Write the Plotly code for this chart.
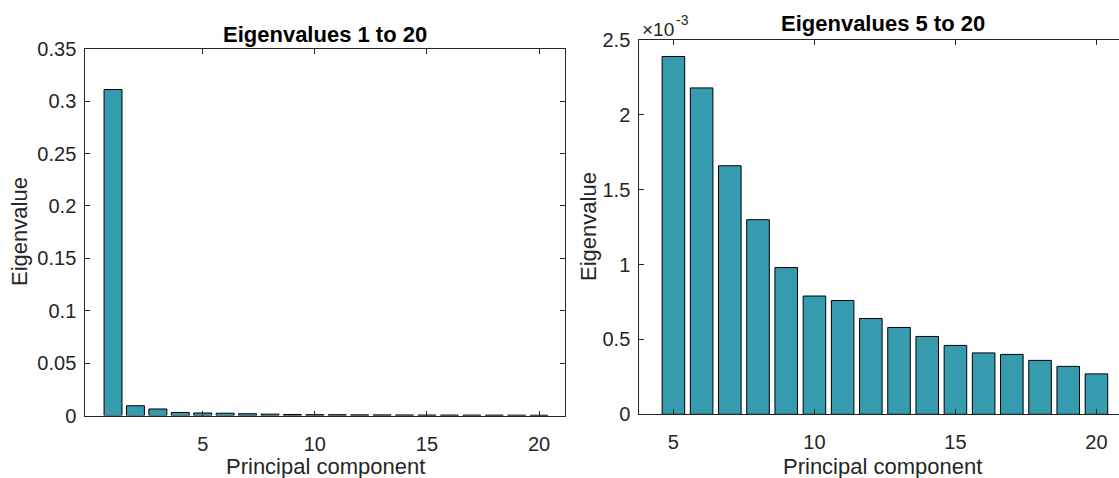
import plotly.graph_objects as go

# ---- data ----
components = list(range(1, 21))
eigenvalues = [0.311, 0.0093, 0.0062, 0.0029, 0.00239, 0.00218, 0.00166, 0.00130,
               0.00098, 0.00079, 0.00076, 0.00064, 0.00058, 0.00052, 0.00046,
               0.00041, 0.00040, 0.00036, 0.00032, 0.00027]
zoom_start = 5  # second panel shows components 5..20

left_xticks = [5, 10, 15, 20]
left_yticks = [0, 0.05, 0.1, 0.15, 0.2, 0.25, 0.3, 0.35]
left_yticktext = ["0", "0.05", "0.1", "0.15", "0.2", "0.25", "0.3", "0.35"]
right_xticks = [5, 10, 15, 20]
right_yticks = [0, 0.0005, 0.001, 0.0015, 0.002, 0.0025]
right_yticktext = ["0", "0.5", "1", "1.5", "2", "2.5"]

W, H = 1119, 478
BAR = "#359cb0"
AX = "#262626"
FONT = "Liberation Sans, Arial, Helvetica, sans-serif"

def px(x):
    return x / W

def py(y):
    return 1 - y / H

fig = go.Figure()
fig.add_trace(go.Bar(x=components, y=eigenvalues, width=0.8,
                     marker=dict(color=BAR, line=dict(color="black", width=1)),
                     xaxis="x", yaxis="y"))
i0 = components.index(zoom_start)
fig.add_trace(go.Bar(x=components[i0:], y=eigenvalues[i0:], width=0.8,
                     marker=dict(color=BAR, line=dict(color="black", width=1)),
                     xaxis="x2", yaxis="y2"))

axis_common = dict(showgrid=False, zeroline=False, showline=True, linecolor=AX,
                   linewidth=1, ticks="inside", ticklen=5, tickcolor=AX,
                   automargin=False,
                   tickfont=dict(size=20, color=AX, family=FONT))

fig.update_layout(
    template="none",
    width=W, height=H, margin=dict(l=0, r=0, t=0, b=0, pad=0),
    paper_bgcolor="white", plot_bgcolor="white", showlegend=False,
    font=dict(family=FONT, color=AX),
    xaxis=dict(domain=[px(85.3), px(565.3)], range=[-0.236, 21.17],
               tickvals=left_xticks, mirror="ticks",
               anchor="y", ticklabelstandoff=10, **axis_common),
    yaxis=dict(domain=[py(415.5), py(48.7)], range=[0, 0.35],
               tickvals=left_yticks, ticktext=left_yticktext, mirror="ticks",
               anchor="x", ticklabelstandoff=4, **axis_common),
    xaxis2=dict(domain=[px(639.3), 1.0], range=[3.79, 20.8],
                tickvals=right_xticks, mirror="ticks", anchor="y2",
                ticklabelstandoff=10, **axis_common),
    yaxis2=dict(domain=[py(414.3), py(40)], range=[0, 0.0025],
                tickvals=right_yticks, ticktext=right_yticktext, anchor="x2",
                ticklabelstandoff=4, **axis_common),
)

ann = []
ann.append(dict(text="<b>Eigenvalues 1 to 20</b>", x=px(325), y=py(34.5),
                font=dict(size=22, color="black", family=FONT)))
ann.append(dict(text="<b>Eigenvalues 5 to 20</b>", x=px(882.5), y=py(23.5),
                font=dict(size=22, color="black", family=FONT)))
ann.append(dict(text="Principal component", x=px(325), y=py(466),
                font=dict(size=22, color=AX, family=FONT)))
ann.append(dict(text="Principal component", x=px(882), y=py(466),
                font=dict(size=22, color=AX, family=FONT)))
ann.append(dict(text="Eigenvalue", x=px(20), y=py(232), textangle=-90,
                font=dict(size=22, color=AX, family=FONT)))
ann.append(dict(text="Eigenvalue", x=px(588), y=py(227), textangle=-90,
                font=dict(size=22, color=AX, family=FONT)))
ann.append(dict(text="×10", x=px(640), y=py(29), xanchor="left",
                font=dict(size=19, color=AX, family=FONT)))
ann.append(dict(text="-3", x=px(674), y=py(20), xanchor="left",
                font=dict(size=14, color=AX, family=FONT)))
for a in ann:
    a.setdefault("xanchor", "center")
    a.update(xref="paper", yref="paper", yanchor="middle", showarrow=False)
fig.update_layout(annotations=ann)

fig.write_html("out.html")
